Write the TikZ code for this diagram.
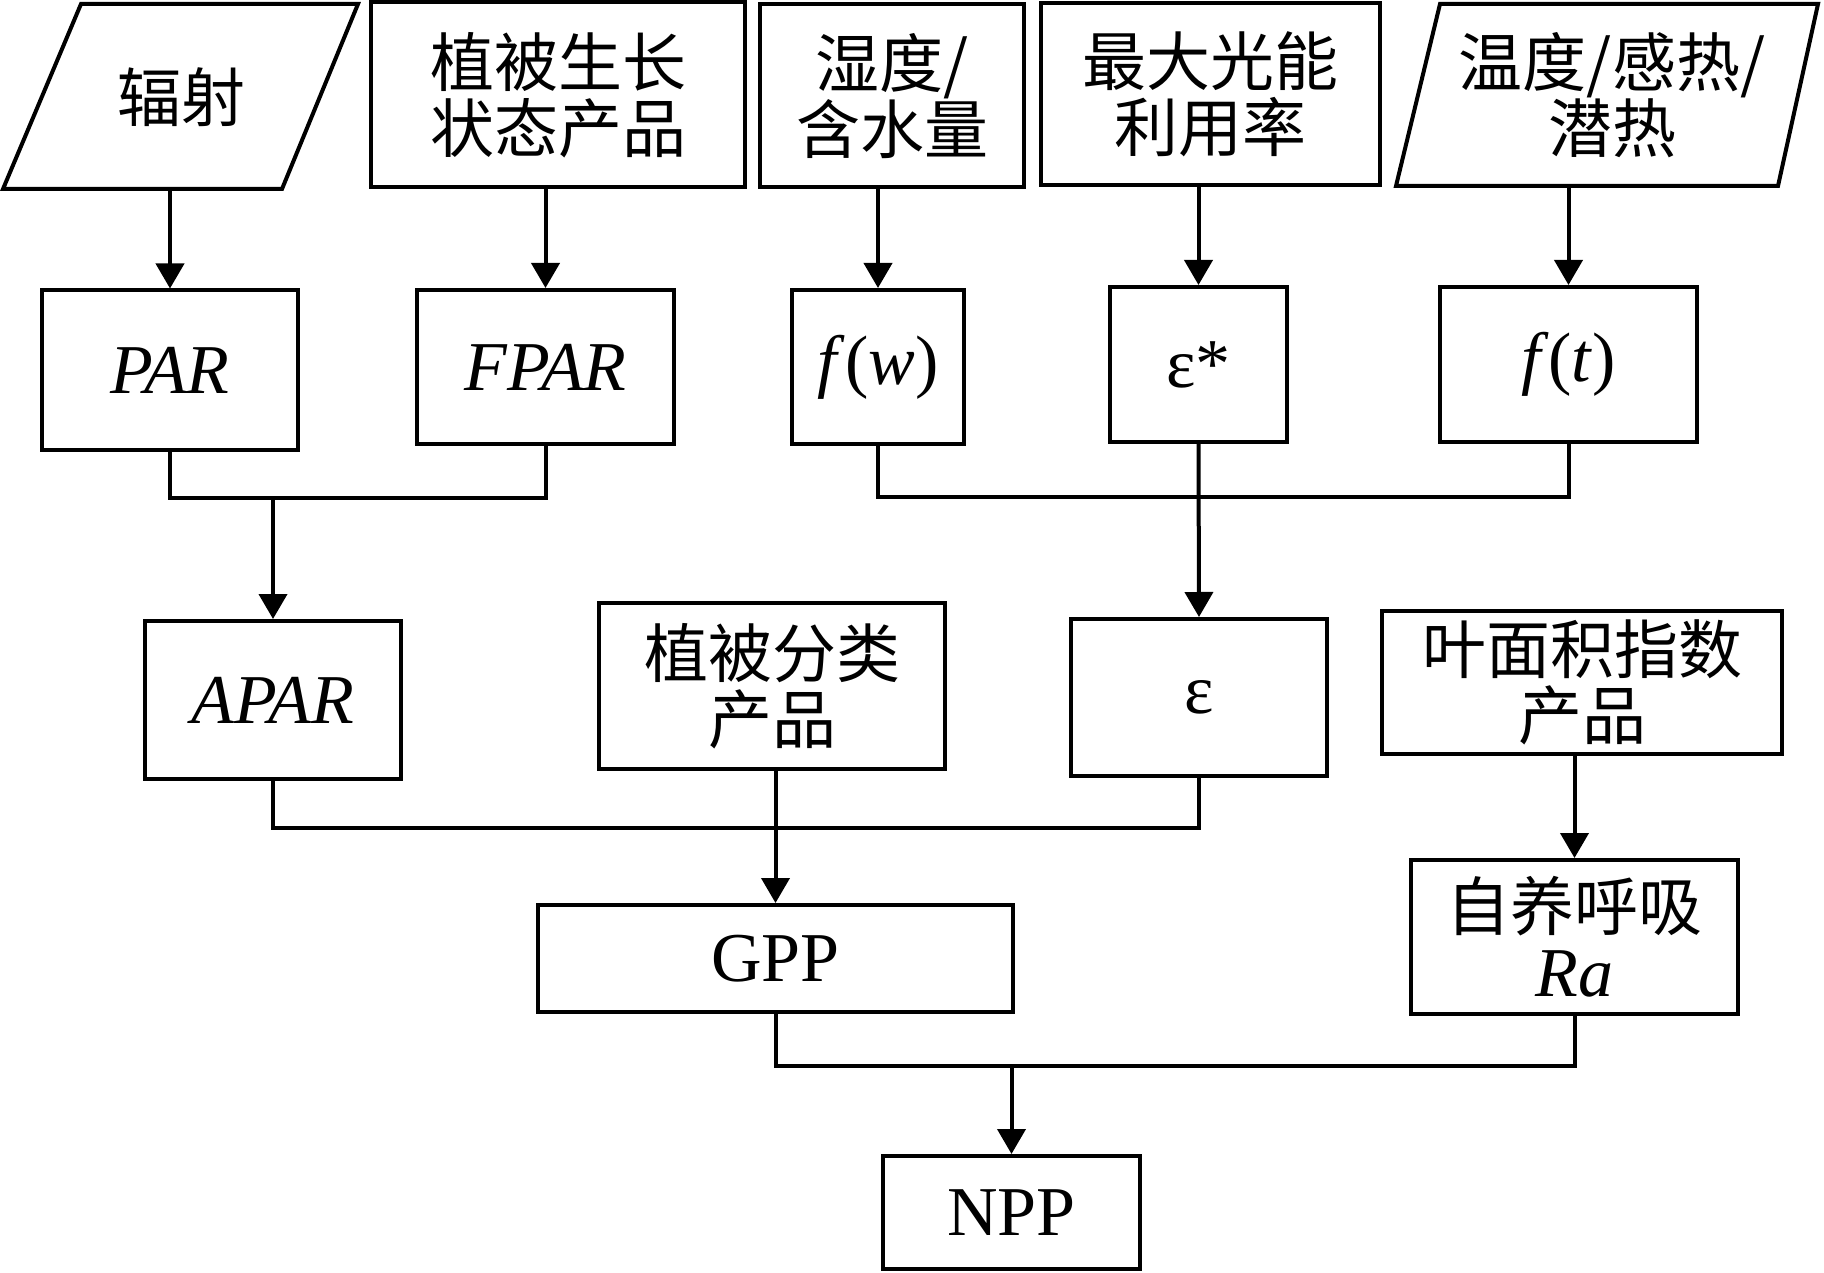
\documentclass[tikz,border=0pt]{standalone}
\usepackage{fontspec}
\setmainfont{Liberation Serif}
\newfontfamily\cjk{Noto Sans CJK SC}
\usetikzlibrary{arrows.meta}
\tikzset{
  box/.style={draw, line width=4pt, inner sep=0pt, align=center},
  plain/.style={inner sep=0pt, align=center},
  zh/.style={font=\cjk\fontsize{64}{66}\selectfont},
  en/.style={font=\fontsize{70}{70}\selectfont},
  conn/.style={line width=4pt},
  arr/.style={conn, -{Triangle[width=28pt,length=25pt]}},
  shapeline/.style={line width=4pt, line join=miter}
}
\begin{document}
\begin{tikzpicture}[x=1pt,y=-1pt]
\useasboundingbox (0,0) rectangle (1824,1273);
% row 1
\draw[shapeline] (81,4) -- (358,4) -- (282,189) -- (3,189) -- cycle;
\node[plain, zh, minimum width=200pt, minimum height=185pt] (rad) at (181,97) {辐射};
\node[box, zh, minimum width=374pt, minimum height=185pt] (grow) at (558,95) {植被生长\\状态产品};
\node[box, zh, minimum width=264pt, minimum height=183pt] (hum) at (892,96) {湿度/\\含水量};
\node[box, zh, minimum width=339pt, minimum height=182pt] (lue) at (1210,94) {最大光能\\利用率};
\draw[shapeline] (1440,4) -- (1818,4) -- (1778,186) -- (1396,186) -- cycle;
\node[plain, zh, minimum width=300pt, minimum height=182pt] (temp) at (1612,95) {温度/感热/\\潜热};
% row 2
\node[box, en, minimum width=256pt, minimum height=159pt] (par) at (170,370) {\textit{PAR}};
\node[box, en, minimum width=257pt, minimum height=154pt] (fpar) at (545.5,367) {\textit{FPAR}};
\node[box, en, minimum width=172pt, minimum height=154pt] (fw) at (878,367) {\textit{f}(\textit{w})};
\node[box, en, minimum width=177pt, minimum height=155pt] (epsa) at (1198.5,364.5) {ε*};
\node[box, en, minimum width=257pt, minimum height=155pt] (ft) at (1568.5,364.5) {\textit{f}(\textit{t})};
% row 3
\node[box, en, minimum width=256pt, minimum height=158pt] (apar) at (273,700) {\textit{APAR}};
\node[box, zh, minimum width=346pt, minimum height=166pt] (veg) at (772,686) {植被分类\\产品};
\node[box, en, minimum width=256pt, minimum height=157pt] (eps) at (1199,697.5) {ε};
\node[box, zh, minimum width=400pt, minimum height=143pt] (lai) at (1582,682.5) {叶面积指数\\产品};
% row 4
\node[box, en, minimum width=475pt, minimum height=107pt] (gpp) at (775.5,958.5) {GPP};
\node[box, zh, minimum width=327pt, minimum height=154pt] (ra) at (1574.5,937) {自养呼吸\\{\rmfamily\fontsize{70}{60}\selectfont\itshape Ra}};
% row 5
\node[box, en, minimum width=257pt, minimum height=113pt] (npp) at (1011.5,1212.5) {NPP};
% junctions
\coordinate (j1) at (273,498);
\coordinate (j2) at (1199,497);
\coordinate (j3) at (775.5,828);
\coordinate (j4) at (1011.5,1066);
% connectors
\draw[arr] (rad.south -| par.north) -- (par.north);
\draw[arr] (grow.south -| fpar.north) -- (fpar.north);
\draw[arr] (hum.south -| fw.north) -- (fw.north);
\draw[arr] (lue.south -| epsa.north) -- (epsa.north);
\draw[arr] (temp.south -| ft.north) -- (ft.north);
\draw[conn] (par.south) |- (j1) -| (fpar.south);
\draw[arr] (j1) -- (apar.north);
\draw[conn] (fw.south) |- (j2) -| (ft.south);
\draw[arr] (epsa.south) -- (eps.north);
\draw[conn] (apar.south) |- (j3) -| (eps.south);
\draw[arr] (veg.south -| gpp.north) -- (gpp.north);
\draw[arr] (lai.south -| ra.north) -- (ra.north);
\draw[conn] (gpp.south) |- (j4) -| (ra.south);
\draw[arr] (j4) -- (npp.north);
\end{tikzpicture}
\end{document}
